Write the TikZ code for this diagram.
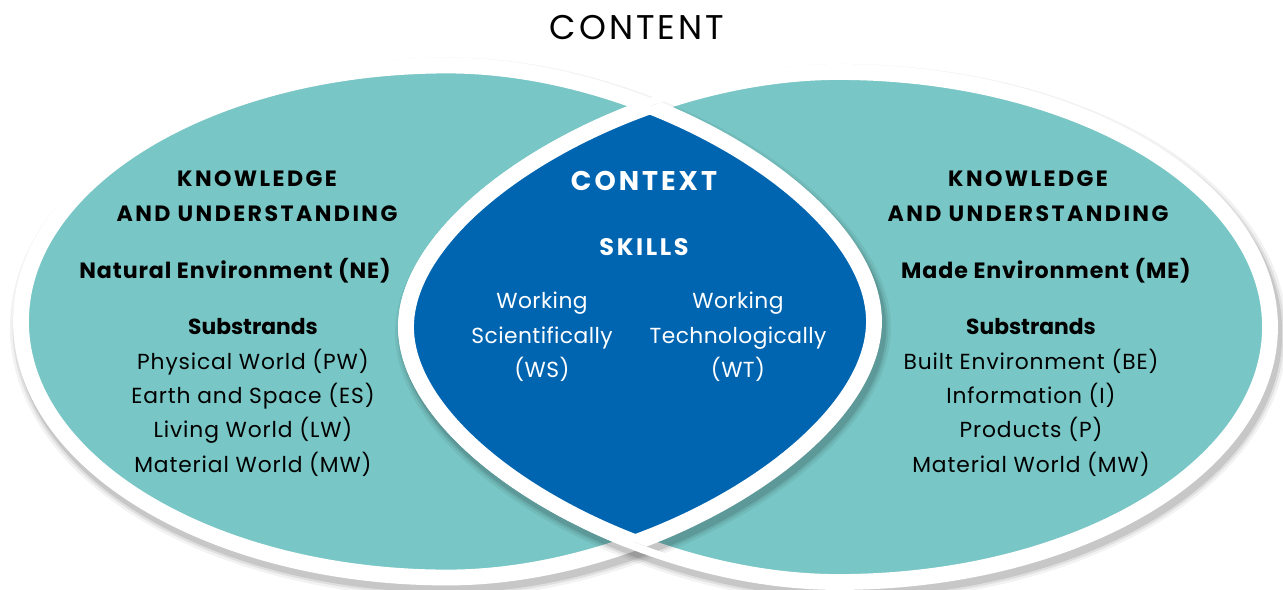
\documentclass[tikz,border=0pt]{standalone}
\usepackage{fontspec}
\setmainfont{Poppins}
\newfontfamily\plainfont{Poppins}
\newfontfamily\titlefont[LetterSpace=9]{Poppins}
\newfontfamily\capsfont[LetterSpace=11]{Poppins}
\newfontfamily\wordfont[LetterSpace=4]{Poppins}
\newfontfamily\lensfont[LetterSpace=2]{Poppins}
\definecolor{VennTeal}{RGB}{120,198,197}
\definecolor{LensBlue}{RGB}{0,101,177}

\tikzset{
  ring/.style={draw=white, line width=9pt},
  capshead/.style={font=\capsfont\bfseries\fontsize{12.6}{19.6}\selectfont, align=center},
  heading/.style={font=\wordfont\bfseries\fontsize{12.6}{19.6}\selectfont, align=center},
  plain/.style={font=\wordfont\fontsize{12.4}{19.6}\selectfont, align=center},
  lensword/.style={font=\lensfont\fontsize{12.4}{19.6}\selectfont, align=center, white},
}

\begin{document}
\begin{tikzpicture}[x=0.02cm, y=-0.02cm]
\useasboundingbox (0,0) rectangle (1283,589);

% the two ovals: round on the outer side, a little flatter on the lens side
\def\leftOval{(21,321.5) .. controls (21,180.1) and (211.9,65.5) .. (447.5,65.5)
  .. controls (648,65.5) and (874,201.2) .. (874,321.5)
  .. controls (874,441.8) and (648,577.5) .. (447.5,577.5)
  .. controls (211.9,577.5) and (21,462.9) .. (21,321.5) -- cycle}
\def\rightOval{(406,327) .. controls (406,207.1) and (635,72) .. (838,72)
  .. controls (1076.6,72) and (1270,186.2) .. (1270,327)
  .. controls (1270,467.8) and (1076.6,582) .. (838,582)
  .. controls (635,582) and (406,446.9) .. (406,327) -- cycle}
\def\shadowWidths{16pt/0.05, 13pt/0.08, 10.5pt/0.11}

% left oval
\foreach \w/\o in \shadowWidths
  \draw[shift={(3,6)}, line width=\w, draw=black, draw opacity=\o] \leftOval;
\fill[VennTeal] \leftOval;
\draw[ring] \leftOval;

% right oval
\foreach \w/\o in \shadowWidths
  \draw[shift={(3,6)}, line width=\w, draw=black, draw opacity=\o] \rightOval;
\fill[VennTeal] \rightOval;
\draw[ring] \rightOval;

% shadow of the left rim over the right oval
\begin{scope}
  \clip \rightOval;
  \foreach \w/\o in \shadowWidths
    \draw[shift={(3,6)}, line width=\w, draw=black, draw opacity=\o] \leftOval;
\end{scope}

% the lens
\begin{scope}
  \clip \leftOval;
  \fill[LensBlue] \rightOval;
  \draw[ring] \rightOval;
\end{scope}
\begin{scope}
  \clip \rightOval;
  \draw[ring] \leftOval;
\end{scope}

% texts
\node[font=\titlefont\fontsize{19.5}{24}\selectfont] (content) at (637,28) {CONTENT};

\node[capshead] (knowL) at (257,196) {KNOWLEDGE\\AND UNDERSTANDING};
\node[heading] (envL) at (235,271) {Natural Environment (NE)};
\node[plain] (subL) at (253,397.5) {{\plainfont\bfseries Substrands}\\Physical World (PW)\\Earth and Space (ES)\\Living World (LW)\\Material World (MW)};

\node[capshead, white, font=\capsfont\bfseries\fontsize{15.4}{19}\selectfont] (context) at (644,181) {CONTEXT};
\node[capshead, white, font=\capsfont\bfseries\fontsize{13.6}{19}\selectfont] (skills) at (644,247) {SKILLS};
\node[lensword] (ws) at (542,337) {Working\\Scientifically\\(WS)};
\node[lensword] (wt) at (738,337) {Working\\Technologically\\(WT)};

\node[capshead] (knowR) at (1028,196) {KNOWLEDGE\\AND UNDERSTANDING};
\node[heading] (envR) at (1046,271) {Made Environment (ME)};
\node[plain] (subR) at (1031,397.5) {{\plainfont\bfseries Substrands}\\Built Environment (BE)\\Information (I)\\Products (P)\\Material World (MW)};

\end{tikzpicture}
\end{document}
